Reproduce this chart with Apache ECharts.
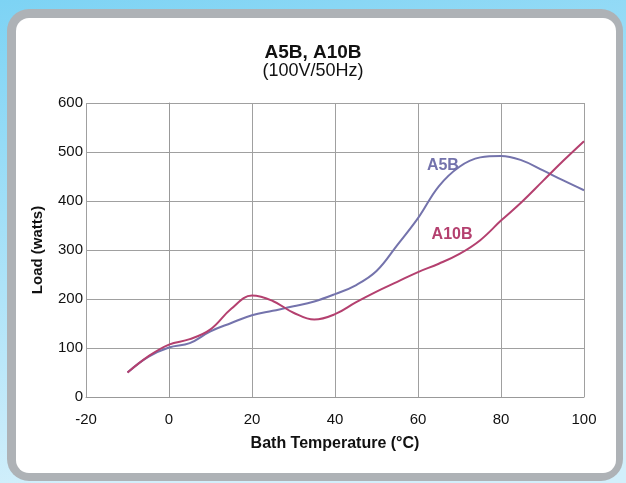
<!DOCTYPE html>
<html>
<head>
<meta charset="utf-8">
<script src="https://cdn.jsdelivr.net/npm/echarts@6/dist/echarts.min.js"></script>
<style>html,body{margin:0;padding:0;}#c{width:626px;height:483px;}</style>
</head>
<body>
<div id="c"></div>
<script>
const temps = [-10,-5,0,5,10,15,20,25,30,35,40,45,50,55,60,65,70,75,80,85,90,95,100];
const a5b  = [50,82,101,110,134,151,167,176,185,195,210,228,257,310,365,430,470,489,492,483,463,442,422];
const a10b = [50,83,107,118,138,180,207,196,172,158,169,193,215,235,255,272,292,320,360,398,440,482,522];
const xTicks = [-20,0,20,40,60,80,100];
const yTicks = [0,100,200,300,400,500,600];
const titleText = 'A5B, A10B';
const subText = '(100V/50Hz)';
const xName = 'Bath Temperature (°C)';
const yName = 'Load (watts)';
const seriesNames = ['A5B','A10B'];
const labelAt = [[66,473],[68.2,331]];

const narrow = '"Liberation Sans Narrow","Liberation Sans",Arial,sans-serif';
const sans = '"Liberation Sans",Arial,sans-serif';
const blue = '#7473ac';
const red = '#b4406f';

const chart = echarts.init(document.getElementById('c'), null, {renderer:'canvas'});
function pairs(v){ return temps.map((t,i)=>[t,v[i]]); }
chart.setOption({
  animation:false,
  backgroundColor:{type:'linear',x:0,y:0,x2:0.15,y2:1,colorStops:[{offset:0,color:'#7dd3f4'},{offset:1,color:'#d2effb'}]},
  graphic:{elements:[
    {type:'rect',z:-20,silent:true,shape:{x:7,y:9,width:616,height:472,r:22},style:{fill:'#aeb2b6'}},
    {type:'rect',z:-19,silent:true,shape:{x:16,y:18,width:600,height:455,r:13},style:{fill:'#ffffff'}}
  ]},
  title:{
    text:titleText, subtext:subText, left:'center', top:38, itemGap:0,
    textStyle:{fontFamily:narrow,fontWeight:'bold',fontSize:19,color:'#111'},
    subtextStyle:{fontFamily:narrow,fontWeight:'normal',fontSize:18,color:'#111'}
  },
  grid:{left:86,right:42,top:103,bottom:86,containLabel:false},
  xAxis:{
    type:'value',min:xTicks[0],max:xTicks[xTicks.length-1],interval:20,
    name:xName,nameLocation:'middle',nameGap:39,
    nameTextStyle:{fontFamily:narrow,fontWeight:'bold',fontSize:16,color:'#111'},
    axisLine:{lineStyle:{color:'#999',width:1}},
    axisTick:{show:false},
    axisLabel:{fontFamily:sans,fontSize:15,color:'#111',margin:15},
    splitLine:{show:true,lineStyle:{color:'#a0a0a0',width:1}}
  },
  yAxis:{
    type:'value',min:yTicks[0],max:yTicks[yTicks.length-1],interval:100,
    name:yName,nameLocation:'middle',nameGap:41,nameRotate:90,
    nameTextStyle:{fontFamily:narrow,fontWeight:'bold',fontSize:15,color:'#111'},
    axisLine:{show:true,lineStyle:{color:'#999',width:1}},
    axisTick:{show:true,length:3,lineStyle:{color:'#999'}},
    axisLabel:{fontFamily:sans,fontSize:15,color:'#111',margin:3},
    splitLine:{show:true,lineStyle:{color:'#a0a0a0',width:1}}
  },
  series:[
    {name:seriesNames[0],type:'line',data:pairs(a5b),smooth:0.4,showSymbol:false,z:3,
     lineStyle:{color:blue,width:2},itemStyle:{color:blue},
     markPoint:{symbol:'circle',symbolSize:1,itemStyle:{color:'rgba(0,0,0,0)'},
       label:{show:true,position:'inside',formatter:seriesNames[0],fontFamily:sans,fontWeight:'bold',fontSize:16,color:blue},
       data:[{coord:labelAt[0]}]}},
    {name:seriesNames[1],type:'line',data:pairs(a10b),smooth:0.4,showSymbol:false,z:4,
     lineStyle:{color:red,width:2},itemStyle:{color:red},
     markPoint:{symbol:'circle',symbolSize:1,itemStyle:{color:'rgba(0,0,0,0)'},
       label:{show:true,position:'inside',formatter:seriesNames[1],fontFamily:sans,fontWeight:'bold',fontSize:16,color:red},
       data:[{coord:labelAt[1]}]}}
  ]
});
</script>
</body>
</html>
